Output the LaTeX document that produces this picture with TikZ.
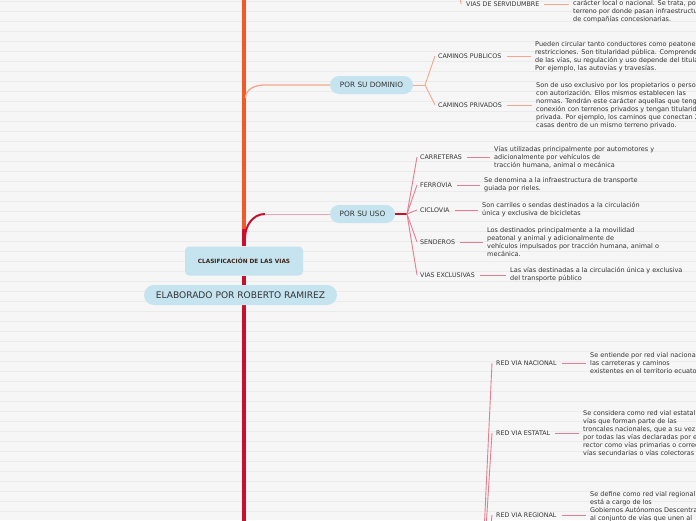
\documentclass[tikz,border=0pt]{standalone}
\usepackage{fontspec}
\setmainfont{DejaVu Sans}
\usetikzlibrary{positioning,calc,backgrounds}

\definecolor{paper}{HTML}{F6F6F6}
\definecolor{rule}{HTML}{EBEBEB}
\definecolor{spineorange}{HTML}{F05A28}
\definecolor{spinered}{HTML}{C8102E}
\definecolor{salmon}{HTML}{F5A68C}
\definecolor{rose}{HTML}{E27D92}
\definecolor{bubble}{HTML}{C6E4EF}
\definecolor{ink}{HTML}{333333}
\definecolor{darkbrown}{HTML}{3B2416}

\begin{document}
\begin{tikzpicture}[x=1pt, y=-1pt,
    topic/.style={fill=bubble, rounded corners=9pt, minimum height=18pt, inner sep=0pt, text=ink, font=\fontsize{7.3}{8}\selectfont},
    item/.style={anchor=west, inner sep=0pt, text=ink, font=\fontsize{6.3}{8}\selectfont},
    note/.style={anchor=west, align=left, inner sep=0pt, text=ink, font=\fontsize{6.5}{8}\selectfont},
    twig/.style={line width=0.9pt},
    hook/.style={twig, shorten <=5pt, shorten >=4pt},
]

\useasboundingbox (0,0) rectangle (696,520);
\clip (0,0) rectangle (696,520);

% Ruled background
\begin{scope}[on background layer]
  \fill[paper] (0,0) rectangle (696,520);
  \foreach \y in {1,11,...,511}
    \draw[rule, line width=0.7pt] (0,\y) -- (696,\y);
\end{scope}

% Central nodes
\node[topic, rounded corners=4pt, minimum width=118pt, minimum height=29pt, text=darkbrown, font=\bfseries\fontsize{5.8}{6}\selectfont] (root) at (244,261) {CLASIFICACIÓN DE LAS VIAS};
\node[topic, rounded corners=10pt, minimum width=193pt, minimum height=20pt, font=\fontsize{9.1}{10}\selectfont] (author) at (240.5,295) {ELABORADO POR ROBERTO RAMIREZ};

% Main topics
\node[topic, minimum width=83pt] (dominio) at (371.5,85) {POR SU DOMINIO};
\node[topic, minimum width=65pt] (uso) at (362.5,214) {POR SU USO};

% Spine and main branches
\coordinate (top) at (244,-10);
\coordinate (bottom) at (244,530);
\begin{scope}[on background layer]
  \draw[spineorange, line width=4pt] (root.north) -- (top);
  \draw[spinered, line width=4pt] (root.north) -- (244,229);
  \draw[spinered, line width=4pt] (root.south) -- (bottom);
  \draw[salmon, line width=1.3pt] (245.5,98) to[out=90, in=180] (264,85) -- (dominio.west);
  \draw[spinered, line width=2pt] (245,238) to[out=90, in=180] (265,214);
  \draw[rose!70, line width=1pt] (265,214) -- (uso.west);
\end{scope}

% Items of each topic
\node[item] (serv) at (466,4) {VIAS DE SERVIDUMBRE};
\node[item] (pub) at (438,56) {CAMINOS PUBLICOS};
\node[item] (priv) at (438,105) {CAMINOS PRIVADOS};
\node[item] (carr) at (420,157) {CARRETERAS};
\node[item] (ferr) at (420,185) {FERROVIA};
\node[item] (cicl) at (420,210) {CICLOVIA};
\node[item] (send) at (420,242) {SENDEROS};
\node[item] (excl) at (420,275) {VIAS EXCLUSIVAS};
\node[item] (nac) at (496,363) {RED VIA NACIONAL};
\node[item] (est) at (496,433) {RED VIA ESTATAL};
\node[item] (reg) at (496,515) {RED VIA REGIONAL};

% Notes
\node[note] (servtxt) at (573,12) {carácter local o nacional. Se trata, por\\terreno por donde pasan infraestructuras\\de compañías concesionarias.};
\node[note] (pubtxt) at (535,57) {Pueden circular tanto conductores como peatones\\restricciones. Son titularidad pública. Comprende\\de las vías, su regulación y uso depende del titular\\Por ejemplo, las autovías y travesías.};
\node[note] (privtxt) at (536,106) {Son de uso exclusivo por los propietarios o personas\\con autorización. Ellos mismos establecen las\\normas. Tendrán este carácter aquellas que tengan\\conexión con terrenos privados y tengan titularidad\\privada. Por ejemplo, los caminos que conectan 2\\casas dentro de un mismo terreno privado.};
\node[note] (carrtxt) at (494,157) {Vías utilizadas principalmente por automotores y\\adicionalmente por vehículos de\\tracción humana, animal o mecánica};
\node[note] (ferrtxt) at (484,185) {Se denomina a la infraestructura de transporte\\guiada por rieles.};
\node[note] (cicltxt) at (482,210) {Son carriles o sendas destinados a la circulación\\única y exclusiva de bicicletas};
\node[note] (sendtxt) at (487,242) {Los destinados principalmente a la movilidad\\peatonal y animal y adicionalmente de\\vehículos impulsados por tracción humana, animal o\\mecánica.};
\node[note] (excltxt) at (510,275) {Las vías destinadas a la circulación única y exclusiva\\del transporte público};
\node[note] (nactxt) at (590,363) {Se entiende por red vial nacional\\las carreteras y caminos\\existentes en el territorio ecuatoriano};
\node[note] (esttxt) at (583,433) {Se considera como red vial estatal\\vías que forman parte de las\\troncales nacionales, que a su vez\\por todas las vías declaradas por el\\rector como vías primarias o corredores\\vías secundarias o vías colectoras};
\node[note] (regtxt) at (590,507) {Se define como red vial regional\\está a cargo de los\\Gobiernos Autónomos Descentralizados\\al conjunto de vías que unen al};

% Fans from the topics to their items
\coordinate (sfan) at (452,-60);
\coordinate (dfan) at (425,85);
\coordinate (ufan) at (407,214);
\coordinate (rfan) at (479,640);
\draw[salmon, twig] (sfan) -- ([xshift=-5pt]serv.west);
\draw[salmon, twig] (dominio.east) -- (dfan);
\foreach \n in {pub,priv}
  \draw[salmon, twig] (dfan) -- ([xshift=-3pt]\n.west);
\draw[spinered, line width=1.5pt] (uso.east) -- (ufan);
\foreach \n in {carr,ferr,cicl,send,excl}
  \draw[rose, twig] (ufan) -- ([xshift=-3pt]\n.west);
\foreach \n in {nac,est,reg}
  \draw[rose, twig] (rfan) -- ([xshift=-4pt]\n.west);

% Item to note hooks
\foreach \n in {serv,pub,priv}
  \draw[salmon, hook] (\n.east) -- (\n.east -| \n txt.west);
\foreach \n in {carr,ferr,cicl,send,excl,nac,est,reg}
  \draw[rose, hook] (\n.east) -- (\n.east -| \n txt.west);

\end{tikzpicture}
\end{document}
